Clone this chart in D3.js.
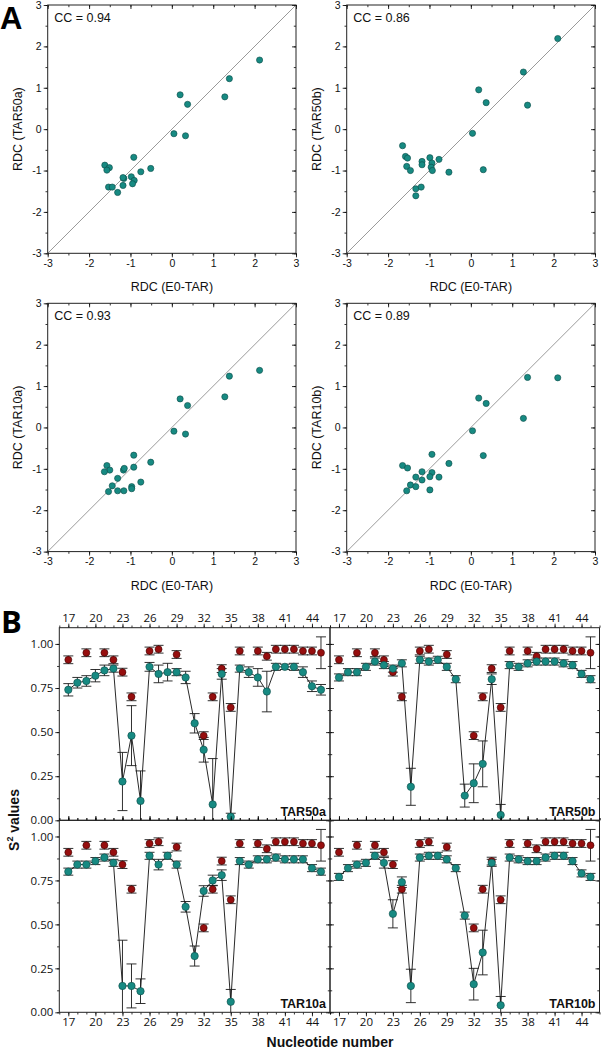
<!DOCTYPE html>
<html>
<head>
<meta charset="utf-8">
<script src="https://cdn.jsdelivr.net/npm/d3@7"></script>
<style>
  body { margin: 0; background: #fff; }
</style>
</head>
<body>
<script>
// ---------- panel A: RDC scatter, [E0-TAR, ensemble] pairs ----------
const rdcTAR50a = [[2.12,1.67],[1.39,1.22],[1.28,0.78],[0.20,0.83],[0.38,0.60],[0.05,-0.11],[0.33,-0.16],
  [-0.92,-0.68],[-0.51,-0.95],[-0.75,-1.03],[-1.62,-0.87],[-1.51,-0.93],[-1.57,-0.99],[-0.98,-1.15],
  [-0.91,-1.24],[-1.16,-1.19],[-1.18,-1.17],[-0.95,-1.32],[-1.53,-1.40],[-1.44,-1.40],[-1.18,-1.36],[-1.31,-1.53]];
const rdcTAR50b = [[2.10,2.19],[1.27,1.38],[1.37,0.58],[0.19,0.95],[0.37,0.64],[0.04,-0.10],[0.30,-0.98],
  [-0.77,-0.73],[-0.53,-1.04],[-0.99,-0.69],[-1.65,-0.40],[-1.58,-0.66],[-1.53,-0.70],[-1.55,-0.90],
  [-1.46,-1.00],[-1.18,-0.78],[-1.18,-0.86],[-0.94,-0.82],[-0.96,-0.92],[-0.93,-1.00],[-1.33,-1.44],
  [-1.20,-1.40],[-1.33,-1.61]];
const rdcTAR10a = [[2.12,1.38],[1.39,1.24],[1.28,0.74],[0.20,0.69],[0.38,0.53],[0.05,-0.09],[0.33,-0.16],
  [-0.92,-0.67],[-0.51,-0.84],[-0.92,-0.96],[-0.75,-1.32],[-1.57,-0.92],[-1.50,-1.03],[-1.63,-1.07],
  [-1.17,-1.03],[-1.15,-0.99],[-1.31,-1.23],[-1.44,-1.41],[-1.53,-1.55],[-1.31,-1.53],[-1.16,-1.53],
  [-0.97,-1.43],[-0.97,-1.48]];
const rdcTAR10b = [[2.10,1.20],[1.37,1.21],[1.27,0.22],[0.19,0.71],[0.37,0.58],[0.04,-0.08],[0.30,-0.68],
  [-0.94,-0.65],[-0.53,-0.87],[-1.65,-0.92],[-1.53,-0.98],[-1.18,-1.07],[-0.94,-1.09],[-0.99,-1.19],
  [-0.77,-1.20],[-1.33,-1.20],[-1.18,-1.27],[-1.46,-1.39],[-1.33,-1.43],[-1.55,-1.53],[-0.99,-1.51]];
const ccLabels = ["CC = 0.94", "CC = 0.86", "CC = 0.93", "CC = 0.89"];
const ensembleNames = ["TAR50a", "TAR50b", "TAR10a", "TAR10b"];
const rdcTicks = [-3, -2, -1, 0, 1, 2, 3];

// ---------- panel B: S2 order parameters ----------
const nucleotides = [17,18,19,20,21,22,23,24,25,26,27,28,29,30,31,32,33,34,35,36,37,38,39,40,41,42,43,44,45];
const s2TAR50a = [0.74,0.78,0.79,0.82,0.85,0.86,0.22,0.48,0.11,0.87,0.83,0.84,0.84,0.81,0.55,0.40,0.09,0.83,0.02,0.86,0.84,0.81,0.73,0.87,0.87,0.87,0.84,0.76,0.74];
const errTAR50a = [0.035,0.03,0.03,0.035,0.03,0.02,0.165,0.17,0.17,0.025,0.05,0.05,0.02,0.035,0.055,0.07,0.26,0.03,0.02,0.02,0.03,0.05,0.115,0.02,0.015,0.02,0.03,0.03,0.03];
const s2TAR50b = [0.81,0.84,0.84,0.87,0.90,0.88,0.86,0.89,0.19,0.91,0.90,0.91,0.87,0.80,0.14,0.21,0.32,0.80,0.03,0.88,0.87,0.89,0.90,0.90,0.90,0.89,0.88,0.83,0.80];
const errTAR50b = [0.02,0.02,0.02,0.02,0.02,0.02,0.02,0.02,0.105,0.02,0.02,0.02,0.02,0.02,0.065,0.11,0.13,0.03,0.06,0.02,0.02,0.02,0.02,0.02,0.02,0.02,0.02,0.02,0.02];
const s2TAR10a = [0.80,0.84,0.84,0.86,0.88,0.85,0.15,0.15,0.12,0.89,0.84,0.89,0.84,0.60,0.32,0.69,0.75,0.78,0.06,0.86,0.84,0.87,0.87,0.88,0.87,0.87,0.87,0.82,0.80];
const errTAR10a = [0.02,0.02,0.02,0.02,0.02,0.02,0.26,0.125,0.07,0.02,0.03,0.02,0.02,0.03,0.057,0.03,0.03,0.03,0.07,0.02,0.02,0.02,0.02,0.02,0.02,0.02,0.02,0.02,0.02];
const s2TAR10b = [0.77,0.82,0.84,0.85,0.89,0.85,0.56,0.74,0.15,0.88,0.89,0.89,0.87,0.82,0.55,0.16,0.34,0.85,0.04,0.88,0.87,0.86,0.86,0.88,0.89,0.89,0.86,0.79,0.77];
const errTAR10b = [0.02,0.02,0.02,0.02,0.02,0.03,0.08,0.03,0.095,0.02,0.02,0.02,0.02,0.02,0.02,0.09,0.127,0.02,0.05,0.02,0.02,0.02,0.02,0.02,0.02,0.02,0.02,0.02,0.02];
// reference (red) values, shown in every panel
const refNucleotides = [17,19,21,22,23,24,26,27,29,32,33,34,35,36,38,39,40,41,42,43,44,45];
const s2Ref = [0.91,0.95,0.95,0.91,0.84,0.70,0.96,0.97,0.94,0.48,0.70,0.86,0.64,0.96,0.96,0.93,0.97,0.97,0.97,0.96,0.96,0.95];
const errRef = [0.022,0.022,0.022,0.022,0.022,0.022,0.022,0.022,0.022,0.022,0.022,0.022,0.022,0.022,0.022,0.022,0.022,0.022,0.022,0.022,0.022,0.09];
const nucTicks = [17,20,23,26,29,32,35,38,41,44];
const s2Ticks = [0, 0.25, 0.5, 0.75, 1.0];

const W = 601, H = 1050;
const teal = "#178a82", tealEdge = "#0b4a46";
const red = "#960e0e", redEdge = "#3c0505";
const fontA = "'Liberation Sans', Arial, sans-serif";
const fontB = "'Open Sans', 'Liberation Sans', sans-serif";

const svg = d3.select("body").append("svg")
    .attr("width", W)
    .attr("height", H)
    .style("display", "block");

// draws one axis (major + minor ticks); size < 0 means the ticks point inward
function axis(g, gen, scale, major, minor, size, fmt, tr, font, fs) {
  g.append("g")
      .attr("transform", tr)
      .call(gen(scale).tickValues(minor).tickSize(size * 0.55).tickFormat(""))
      .call(a => a.select(".domain").remove())
      .call(a => a.selectAll("line").attr("stroke-width", 0.8));
  g.append("g")
      .attr("transform", tr)
      .call(gen(scale).tickValues(major).tickSize(size).tickPadding(2).tickFormat(fmt || ""))
      .call(a => a.select(".domain").remove())
      .call(a => a.selectAll("line").attr("stroke-width", 0.8))
      .attr("font-family", font)
      .attr("font-size", fs)
      .call(a => a.selectAll("text").attr("fill", "#111"));
}

// ================= panel A =================
const rdcSets = [rdcTAR50a, rdcTAR50b, rdcTAR10a, rdcTAR10b];
const aLeft = [47.7, 346.7], aTop = [5, 303.3], aSize = 248.3;
const minorRdc = d3.range(-3, 3.01, 0.5);

rdcSets.forEach((pts, i) => {
  const col = i % 2, row = Math.floor(i / 2);
  const x0 = aLeft[col], y0 = aTop[row];
  const x = d3.scaleLinear().domain([-3, 3]).range([x0, x0 + aSize]);
  const y = d3.scaleLinear().domain([-3, 3]).range([y0 + aSize, y0]);
  const g = svg.append("g");

  g.append("line")
      .attr("x1", x(-3)).attr("y1", y(-3))
      .attr("x2", x(3)).attr("y2", y(3))
      .attr("stroke", "#9a9a9a")
      .attr("stroke-width", 1);

  axis(g, d3.axisBottom, x, rdcTicks, minorRdc, 4, String, `translate(0,${y0 + aSize})`, fontA, 10.5);
  axis(g, d3.axisLeft, y, rdcTicks, minorRdc, 4, String, `translate(${x0},0)`, fontA, 10.5);
  axis(g, d3.axisTop, x, rdcTicks, minorRdc, -4, null, `translate(0,${y0})`, fontA, 10);
  axis(g, d3.axisRight, y, rdcTicks, minorRdc, -4, null, `translate(${x0 + aSize},0)`, fontA, 10);

  g.append("rect")
      .attr("x", x0).attr("y", y0)
      .attr("width", aSize).attr("height", aSize)
      .attr("fill", "none")
      .attr("stroke", "#222")
      .attr("stroke-width", 1);

  g.append("g")
    .selectAll("circle")
    .data(pts)
    .join("circle")
      .attr("cx", d => x(d[0]))
      .attr("cy", d => y(d[1]))
      .attr("r", 3.1)
      .attr("fill", teal)
      .attr("stroke", tealEdge)
      .attr("stroke-width", 0.6);

  g.append("text")
      .attr("x", x0 + 6.5).attr("y", y0 + 17)
      .attr("font-family", fontA).attr("font-size", 12.5)
      .attr("fill", "#111")
      .text(ccLabels[i]);

  g.append("text")
      .attr("x", x0 + aSize / 2).attr("y", y0 + aSize + 38)
      .attr("text-anchor", "middle")
      .attr("font-family", fontA).attr("font-size", 12.5)
      .attr("fill", "#111")
      .text("RDC (E0-TAR)");

  g.append("text")
      .attr("transform", `translate(${x0 - 26},${y0 + aSize / 2}) rotate(-90)`)
      .attr("text-anchor", "middle")
      .attr("font-family", fontA).attr("font-size", 12.5)
      .attr("fill", "#111")
      .text(`RDC (${ensembleNames[i]})`);
});

svg.append("text")
    .attr("x", 0).attr("y", 28.5)
    .attr("font-family", fontA).attr("font-weight", "bold").attr("font-size", 31)
    .text("A");

// ================= panel B =================
const s2Sets = [s2TAR50a, s2TAR50b, s2TAR10a, s2TAR10b];
const errSets = [errTAR50a, errTAR50b, errTAR10a, errTAR10b];
const bX = [[59.3, 330], [330, 599.5]];
const bY = [[820.3, 627.7], [1012.3, 820.3]];
const minorNuc = d3.range(16, 47);
const minorS2 = d3.range(0, 1.09, 0.125);
const cap = 5;

s2Sets.forEach((vals, i) => {
  const col = i % 2, row = Math.floor(i / 2);
  const x = d3.scaleLinear().domain([16, 46]).range(bX[col]);
  const y = d3.scaleLinear().domain([0, 1.092]).range(bY[row]);
  const [xl, xr] = bX[col], [yb, yt] = bY[row];
  const g = svg.append("g");

  // axes
  axis(g, d3.axisBottom, x, nucTicks, minorNuc, row === 1 ? 4 : -4,
       row === 1 ? String : null, `translate(0,${yb})`, fontB, 11.5);
  axis(g, d3.axisTop, x, nucTicks, minorNuc, 4,
       row === 0 ? String : null, `translate(0,${yt})`, fontB, 11.5);
  axis(g, d3.axisLeft, y, s2Ticks, minorS2, col === 0 ? 4 : -4,
       col === 0 ? d3.format(".2f") : null, `translate(${xl},0)`, fontB, 11.5);
  axis(g, d3.axisRight, y, s2Ticks, minorS2, -4, null, `translate(${xr},0)`, fontB, 11.5);

  g.append("rect")
      .attr("x", xl).attr("y", yt)
      .attr("width", xr - xl).attr("height", yb - yt)
      .attr("fill", "none")
      .attr("stroke", "#222")
      .attr("stroke-width", 1);

  const plot = g.append("g");
  const errs = errSets[i];
  const tealData = nucleotides.map((n, k) => ({n, v: vals[k], e: errs[k]}));
  const refData = refNucleotides.map((n, k) => ({n, v: s2Ref[k], e: errRef[k]}));
  const yc = v => Math.min(yb, y(v));

  // connecting line through the ensemble values
  plot.append("path")
      .datum(tealData)
      .attr("fill", "none")
      .attr("stroke", "#111")
      .attr("stroke-width", 0.9)
      .attr("d", d3.line().x(d => x(d.n)).y(d => y(d.v)));

  // error bars
  const bars = plot.append("g")
      .attr("stroke", "#1a1a1a")
      .attr("stroke-width", 0.9)
      .selectAll("g")
      .data(refData.concat(tealData))
      .join("g");
  bars.append("line")
      .attr("x1", d => x(d.n)).attr("x2", d => x(d.n))
      .attr("y1", d => y(d.v + d.e)).attr("y2", d => yc(d.v - d.e));
  bars.append("line")
      .attr("x1", d => x(d.n) - cap).attr("x2", d => x(d.n) + cap)
      .attr("y1", d => y(d.v + d.e)).attr("y2", d => y(d.v + d.e));
  bars.filter(d => d.v - d.e > 0).append("line")
      .attr("x1", d => x(d.n) - cap).attr("x2", d => x(d.n) + cap)
      .attr("y1", d => y(d.v - d.e)).attr("y2", d => y(d.v - d.e));

  plot.append("g")
    .selectAll("circle")
    .data(refData)
    .join("circle")
      .attr("cx", d => x(d.n))
      .attr("cy", d => y(d.v))
      .attr("r", 3.5)
      .attr("fill", red)
      .attr("stroke", redEdge)
      .attr("stroke-width", 0.6);

  plot.append("g")
    .selectAll("circle")
    .data(tealData)
    .join("circle")
      .attr("cx", d => x(d.n))
      .attr("cy", d => y(d.v))
      .attr("r", 3.7)
      .attr("fill", teal)
      .attr("stroke", tealEdge)
      .attr("stroke-width", 0.6);

  g.append("text")
      .attr("x", xr - 4).attr("y", yb - 4)
      .attr("text-anchor", "end")
      .attr("font-family", fontA).attr("font-weight", "bold").attr("font-size", 12.5)
      .attr("fill", "#111")
      .text(ensembleNames[i]);
});

svg.append("text")
    .attr("x", 1).attr("y", 633)
    .attr("font-family", fontB).attr("font-weight", "bold").attr("font-size", 31)
    .text("B");

svg.append("text")
    .attr("x", 330).attr("y", 1047)
    .attr("text-anchor", "middle")
    .attr("font-family", fontA).attr("font-weight", "bold").attr("font-size", 14)
    .attr("fill", "#111")
    .text("Nucleotide number");

const s2Label = svg.append("text")
    .attr("transform", "translate(19,820) rotate(-90)")
    .attr("text-anchor", "middle")
    .attr("font-family", fontA).attr("font-weight", "bold").attr("font-size", 14)
    .attr("fill", "#111");
s2Label.append("tspan").text("S");
s2Label.append("tspan").attr("dy", -6).attr("font-size", 9).text("2");
s2Label.append("tspan").attr("dy", 6).text(" values");
</script>
</body>
</html>
